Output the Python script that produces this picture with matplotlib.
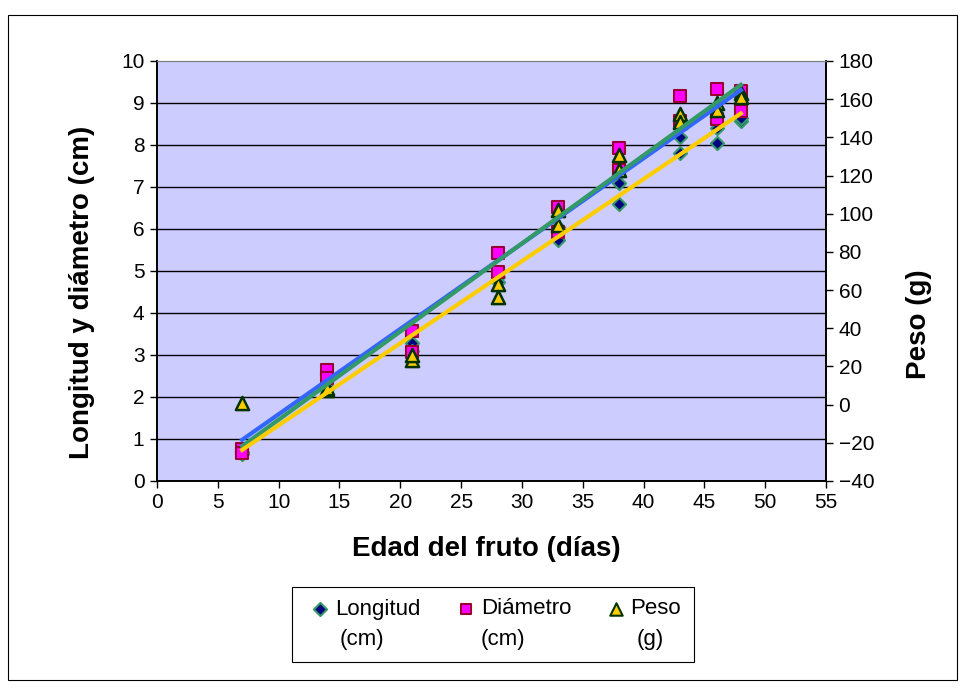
import numpy as np
import matplotlib
matplotlib.use("Agg")
import matplotlib.pyplot as plt
from matplotlib.patches import Rectangle

plt.rcParams['font.family'] = ['Liberation Sans', 'DejaVu Sans']

dias_long = [7, 7, 14, 14, 21, 21, 28, 28, 33, 33, 38, 38, 43, 43, 46, 46, 48, 48]
longitud = [0.65, 0.70, 2.20, 2.25, 3.28, 3.10, 4.85, 4.75, 5.74, 6.05, 7.10, 6.60,
            8.20, 7.80, 8.40, 8.04, 8.56, 8.65]

dias_diam = [7, 7, 14, 14, 21, 21, 28, 28, 33, 33, 38, 38, 43, 43, 46, 46, 48, 48]
diametro = [0.76, 0.67, 2.64, 2.45, 3.58, 3.08, 5.43, 4.98, 6.53, 5.94, 7.92, 7.40,
            9.17, 8.56, 9.33, 8.61, 9.29, 8.82]

dias_peso = [7, 14, 14, 21, 21, 28, 28, 33, 33, 38, 38, 43, 43, 46, 46, 48, 48]
peso = [0.9, 7.5, 8.5, 23.4, 26.0, 63.2, 56.5, 102.0, 94.2, 130.7, 122.8,
        152.5, 148.3, 157.8, 154.3, 163.1, 161.3]

# linear trend lines as shown on the chart (slope, intercept)
tend_long = [0.1954, -0.628]
tend_diam = [0.2098, -0.638]
tend_peso = [4.468, -49.7]

x_ticks = list(range(0, 60, 5))
y_ticks = list(range(0, 11))
y2_ticks = list(range(-40, 200, 20))

fig = plt.figure(figsize=(9.64, 6.89), dpi=100)
fig.patch.set_facecolor('white')
fig.patches.append(Rectangle((8 / 964, 1 - 680 / 689), 949 / 964, 665 / 689,
                             transform=fig.transFigure, fill=False,
                             edgecolor='black', linewidth=0.8))

ax = fig.add_axes([157 / 964, 1 - 481 / 689, 669 / 964, 420 / 689])
ax.set_facecolor('#CCCCFF')
ax2 = ax.twinx()

# grid
for t in y_ticks[1:-1]:
    ax.axhline(t, color='black', linewidth=1.0, zorder=1)

ax.scatter(dias_long, longitud, marker='D', s=45, facecolor='#000080',
           edgecolor='#339966', linewidth=1.5, zorder=3)
ax.scatter(dias_diam, diametro, marker='s', s=70, facecolor='#FF00FF',
           edgecolor='#990033', linewidth=1.5, zorder=3)
ax2.scatter(dias_peso, peso, marker='^', s=90, facecolor='#FFCC00',
            edgecolor='#003300', linewidth=1.8, zorder=3)

# trend lines (all drawn in ax2 so they sit above the markers)
xx = np.array([min(dias_peso), max(dias_peso)])
ax2.plot(xx, tend_peso[0] * xx + tend_peso[1], color='#3366FF', linewidth=3, zorder=4)
xx = np.array([min(dias_diam), max(dias_diam)])
ax2.plot(xx, tend_diam[0] * xx + tend_diam[1], color='#339966', linewidth=3, zorder=5,
         transform=ax.transData)
xx = np.array([min(dias_long), max(dias_long)])
ax2.plot(xx, tend_long[0] * xx + tend_long[1], color='#FFCC00', linewidth=3, zorder=6,
         transform=ax.transData)

ax.set_xlim(0, 55)
ax.set_ylim(0, 10)
ax2.set_ylim(-40, 180)
ax.set_xticks(x_ticks)
ax.set_yticks(y_ticks)
ax2.set_yticks(y2_ticks)

for a in (ax, ax2):
    a.tick_params(labelsize=15, length=5, width=1, direction='out', pad=4)
    a.spines['top'].set_color('#808080')
    for s in ('left', 'right', 'bottom'):
        a.spines[s].set_color('black')
        a.spines[s].set_linewidth(1.2)

ax.set_xlabel('Edad del fruto (días)', fontsize=20, fontweight='bold', va='top')
ax.set_ylabel('Longitud y diámetro (cm)', fontsize=20, fontweight='bold')
ax2.set_ylabel('Peso (g)', fontsize=20, fontweight='bold')
ax.xaxis.set_label_coords(0.492, -0.132)
ax.yaxis.set_label_coords(-0.093, 0.45)
ax2.yaxis.set_label_coords(1.12, 0.374)

# legend drawn by hand: marker next to first line, unit on second line
lg = fig.add_axes([0, 0, 1, 1], facecolor='none')
lg.set_xlim(0, 964)
lg.set_ylim(689, 0)
lg.axis('off')
lg.add_patch(Rectangle((292, 587), 402, 75, fill=False, edgecolor='black', linewidth=0.8))
entradas = [
    ('D', 45, '#000080', '#339966', 320, 335, 'Longitud', 362, '(cm)'),
    ('s', 60, '#FF00FF', '#990033', 466, 481, 'Diámetro', 503, '(cm)'),
    ('^', 80, '#FFCC00', '#003300', 616, 630, 'Peso', 650, '(g)'),
]
for mk, sz, fc, ec, mx, tx, t1, cx, t2 in entradas:
    lg.scatter([mx], [609], marker=mk, s=sz, facecolor=fc, edgecolor=ec, linewidth=1.5)
    lg.text(tx, 609, t1, fontsize=16, va='center', ha='left')
    lg.text(cx, 640, t2, fontsize=16, va='center', ha='center')

fig.savefig('out.png', dpi=100)
